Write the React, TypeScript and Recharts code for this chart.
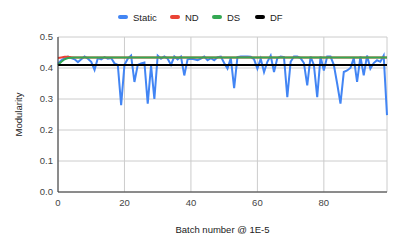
import { CartesianGrid, Line, LineChart, XAxis, YAxis } from "recharts";

// batch index 0..99
const batches = [
  0, 1, 2, 3, 4, 5, 6, 7, 8, 9, 10, 11, 12, 13, 14, 15, 16, 17, 18, 19,
  20, 21, 22, 23, 24, 25, 26, 27, 28, 29, 30, 31, 32, 33, 34, 35, 36, 37, 38, 39,
  40, 41, 42, 43, 44, 45, 46, 47, 48, 49, 50, 51, 52, 53, 54, 55, 56, 57, 58, 59,
  60, 61, 62, 63, 64, 65, 66, 67, 68, 69, 70, 71, 72, 73, 74, 75, 76, 77, 78, 79,
  80, 81, 82, 83, 84, 85, 86, 87, 88, 89, 90, 91, 92, 93, 94, 95, 96, 97, 98, 99,
];

const staticVals = [
  0.414, 0.425, 0.432, 0.437, 0.432, 0.428, 0.419, 0.428, 0.437, 0.43,
  0.42, 0.394, 0.432, 0.428, 0.435, 0.43, 0.432, 0.415, 0.41, 0.28,
  0.41, 0.43, 0.44, 0.355, 0.41, 0.415, 0.418, 0.285, 0.408, 0.3,
  0.44, 0.43, 0.437, 0.43, 0.41, 0.437, 0.428, 0.437, 0.376, 0.428,
  0.43, 0.428, 0.425, 0.43, 0.437, 0.425, 0.432, 0.425, 0.435, 0.437,
  0.416, 0.398, 0.432, 0.335, 0.435, 0.437, 0.437, 0.437, 0.436, 0.428,
  0.398, 0.43, 0.387, 0.42, 0.44, 0.387, 0.432, 0.437, 0.435, 0.306,
  0.42, 0.437, 0.437, 0.432, 0.416, 0.344, 0.437, 0.41, 0.306, 0.437,
  0.392, 0.437, 0.437, 0.41, 0.35, 0.285, 0.387, 0.392, 0.4, 0.432,
  0.355, 0.437, 0.376, 0.44, 0.398, 0.416, 0.425, 0.42, 0.44, 0.248,
];

const ndVals = [
  0.432, 0.434, 0.436, 0.436, 0.435, 0.434, 0.434, 0.434, 0.434, 0.434,
  0.434, 0.434, 0.434, 0.434, 0.434, 0.434, 0.434, 0.434, 0.434, 0.434,
  0.434, 0.434, 0.434, 0.434, 0.434, 0.434, 0.434, 0.434, 0.434, 0.434,
  0.434, 0.434, 0.434, 0.434, 0.434, 0.434, 0.434, 0.434, 0.434, 0.434,
  0.434, 0.434, 0.434, 0.434, 0.434, 0.434, 0.434, 0.434, 0.434, 0.434,
  0.434, 0.434, 0.434, 0.434, 0.434, 0.434, 0.434, 0.434, 0.434, 0.434,
  0.434, 0.434, 0.434, 0.434, 0.434, 0.434, 0.434, 0.434, 0.434, 0.434,
  0.434, 0.434, 0.434, 0.434, 0.434, 0.434, 0.434, 0.434, 0.434, 0.434,
  0.434, 0.434, 0.434, 0.434, 0.434, 0.434, 0.434, 0.434, 0.434, 0.434,
  0.434, 0.434, 0.434, 0.434, 0.434, 0.434, 0.434, 0.434, 0.434, 0.434,
];

const dsVals = [
  0.41, 0.42, 0.428, 0.432, 0.433, 0.434, 0.434, 0.434, 0.434, 0.434,
  0.434, 0.434, 0.434, 0.434, 0.434, 0.434, 0.434, 0.434, 0.434, 0.434,
  0.434, 0.434, 0.434, 0.434, 0.434, 0.434, 0.434, 0.434, 0.434, 0.434,
  0.434, 0.434, 0.434, 0.434, 0.434, 0.434, 0.434, 0.434, 0.434, 0.434,
  0.434, 0.434, 0.434, 0.434, 0.434, 0.434, 0.434, 0.434, 0.434, 0.434,
  0.434, 0.434, 0.434, 0.434, 0.434, 0.434, 0.434, 0.434, 0.434, 0.434,
  0.434, 0.434, 0.434, 0.434, 0.434, 0.434, 0.434, 0.434, 0.434, 0.434,
  0.434, 0.434, 0.434, 0.434, 0.434, 0.434, 0.434, 0.434, 0.434, 0.434,
  0.434, 0.434, 0.434, 0.434, 0.434, 0.434, 0.434, 0.434, 0.434, 0.434,
  0.434, 0.434, 0.434, 0.434, 0.434, 0.434, 0.434, 0.434, 0.434, 0.434,
];

const dfVals = [
  0.41, 0.41, 0.41, 0.41, 0.41, 0.41, 0.41, 0.41, 0.41, 0.41,
  0.41, 0.41, 0.41, 0.41, 0.41, 0.41, 0.41, 0.41, 0.41, 0.41,
  0.41, 0.41, 0.41, 0.41, 0.41, 0.41, 0.41, 0.41, 0.41, 0.41,
  0.41, 0.41, 0.41, 0.41, 0.41, 0.41, 0.41, 0.41, 0.41, 0.41,
  0.41, 0.41, 0.41, 0.41, 0.41, 0.41, 0.41, 0.41, 0.41, 0.41,
  0.41, 0.41, 0.41, 0.41, 0.41, 0.41, 0.41, 0.41, 0.41, 0.41,
  0.41, 0.41, 0.41, 0.41, 0.41, 0.41, 0.41, 0.41, 0.41, 0.41,
  0.41, 0.41, 0.41, 0.41, 0.41, 0.41, 0.41, 0.41, 0.41, 0.41,
  0.41, 0.41, 0.41, 0.41, 0.41, 0.41, 0.41, 0.41, 0.41, 0.41,
  0.41, 0.41, 0.41, 0.41, 0.41, 0.41, 0.41, 0.41, 0.41, 0.41,
];

const xTicks = [0, 20, 40, 60, 80];
const yTicks = [0, 0.1, 0.2, 0.3, 0.4, 0.5];

const series = [
  { key: "Static", color: "#4285F4", x: 118 },
  { key: "ND", color: "#EA4335", x: 170 },
  { key: "DS", color: "#34A853", x: 212 },
  { key: "DF", color: "#000000", x: 255 },
];

const font = "'Liberation Sans', Arial, sans-serif";

export default function App() {
  const data = batches.map((b, i) => ({
    b,
    Static: staticVals[i],
    ND: ndVals[i],
    DS: dsVals[i],
    DF: dfVals[i],
  }));

  return (
    <div style={{ position: "fixed", left: 0, top: 0, width: 399, height: 246, background: "#fff", fontFamily: font }}>
      {/* legend */}
      {series.map((s) => (
        <div key={s.key} style={{ position: "absolute", left: s.x, top: 10, height: 14, display: "flex", alignItems: "center" }}>
          <div style={{ width: 10, height: 4, borderRadius: 2, background: s.color }} />
          <span style={{ marginLeft: 5, fontSize: 9.5, color: "#222" }}>{s.key}</span>
        </div>
      ))}
      <LineChart width={399} height={246} data={data} margin={{ top: 37, right: 12, left: 0, bottom: 0 }}>
        <CartesianGrid stroke="#ccc" />
        <XAxis
          dataKey="b"
          type="number"
          domain={[0, 99]}
          ticks={xTicks}
          height={54}
          tickLine={false}
          tickSize={6}
          tickMargin={1}
          axisLine={{ stroke: "#333" }}
          tick={{ fill: "#444", fontSize: 9.5, fontFamily: font }}
          label={{ value: "Batch number @ 1E-5", position: "insideBottom", offset: 13, fill: "#222", fontSize: 9.5, fontFamily: font }}
        />
        <YAxis
          type="number"
          domain={[0, 0.5]}
          ticks={yTicks}
          width={58}
          tickLine={false}
          tickSize={5}
          tickMargin={0}
          axisLine={{ stroke: "#333" }}
          tickFormatter={(v: number) => v.toFixed(1)}
          tick={{ fill: "#444", fontSize: 9.5, fontFamily: font }}
          label={{
            content: (p: any) => {
              const vb = p.viewBox || {};
              const cy = (vb.y || 37) + (vb.height || 155) / 2;
              return (
                <text x={18} y={cy} transform={`rotate(-90 18 ${cy})`} textAnchor="middle" dominantBaseline="central" fill="#222" fontSize={9.5} fontFamily={font}>
                  Modularity
                </text>
              );
            },
          }}
        />
        <Line dataKey="Static" stroke="#4285F4" strokeWidth={2} dot={false} isAnimationActive={false} />
        <Line dataKey="ND" stroke="#EA4335" strokeWidth={2} dot={false} isAnimationActive={false} />
        <Line dataKey="DS" stroke="#34A853" strokeWidth={2} dot={false} isAnimationActive={false} />
        <Line dataKey="DF" stroke="#000000" strokeWidth={2} dot={false} isAnimationActive={false} />
      </LineChart>
    </div>
  );
}
